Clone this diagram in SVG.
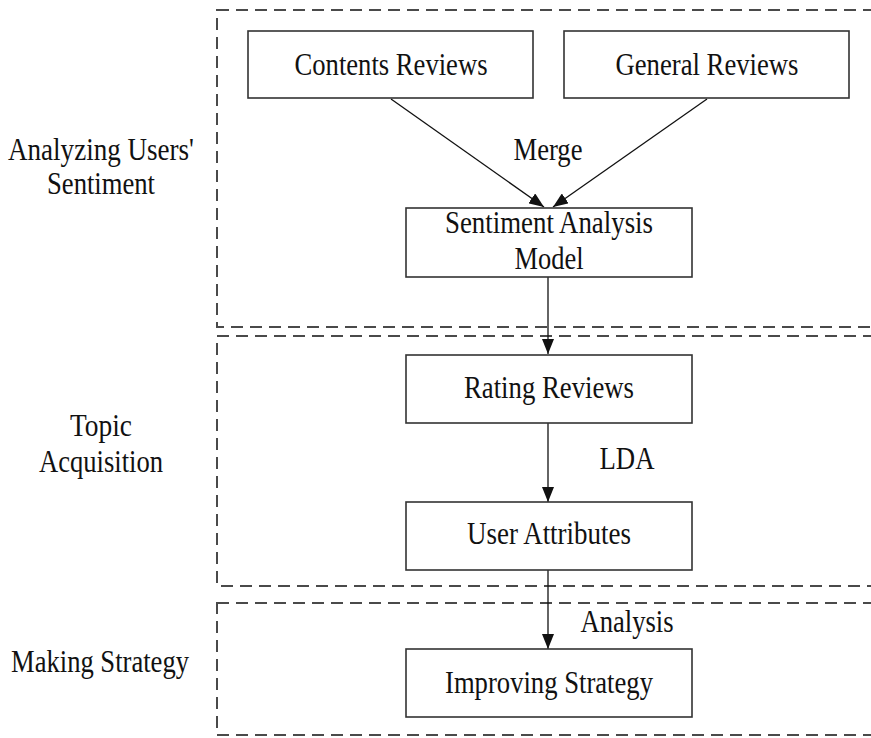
<svg xmlns="http://www.w3.org/2000/svg" width="871" height="738" viewBox="0 0 871 738">
  <style>
    .stage { fill: none; stroke: #4a4a4a; stroke-width: 2; stroke-dasharray: 12 7; }
    .box { fill: #fff; stroke: #333; stroke-width: 1.6; }
    .lbl { font-family: "Liberation Serif", "Times New Roman", serif; font-size: 31px; fill: #111; text-anchor: middle; }
    .edge { fill: none; stroke: #111; stroke-width: 1.3; }
  </style>
  <defs>
    <marker id="arrow" markerUnits="userSpaceOnUse" markerWidth="15" markerHeight="12" refX="15" refY="6" orient="auto">
      <path d="M0,0 L15,6 L0,12 z" fill="#111"/>
    </marker>
  </defs>
  <rect width="871" height="738" fill="#fff"/>

  <!-- stage frames (open on the right) -->
  <g id="stages">
    <rect class="stage" x="217" y="10" width="700" height="317"/>
    <rect class="stage" x="217" y="336" width="700" height="250"/>
    <rect class="stage" x="217" y="603" width="700" height="132"/>
  </g>

  <!-- stage titles -->
  <g id="stage-titles">
    <text class="lbl" x="101" y="160" textLength="186" lengthAdjust="spacingAndGlyphs">Analyzing Users'</text>
    <text class="lbl" x="101" y="194" textLength="108" lengthAdjust="spacingAndGlyphs">Sentiment</text>
    <text class="lbl" x="101" y="436" textLength="62" lengthAdjust="spacingAndGlyphs">Topic</text>
    <text class="lbl" x="101" y="472" textLength="124" lengthAdjust="spacingAndGlyphs">Acquisition</text>
    <text class="lbl" x="100" y="672" textLength="178" lengthAdjust="spacingAndGlyphs">Making Strategy</text>
  </g>

  <!-- connectors -->
  <g id="connectors">
    <line class="edge" x1="391" y1="99" x2="544" y2="207" marker-end="url(#arrow)"/>
    <line class="edge" x1="707" y1="99" x2="553" y2="207" marker-end="url(#arrow)"/>
    <line class="edge" x1="548" y1="277" x2="548" y2="354" marker-end="url(#arrow)"/>
    <line class="edge" x1="548" y1="423" x2="548" y2="502" marker-end="url(#arrow)"/>
    <line class="edge" x1="548" y1="570" x2="548" y2="649" marker-end="url(#arrow)"/>
    <text class="lbl" x="548" y="160" textLength="69" lengthAdjust="spacingAndGlyphs">Merge</text>
    <text class="lbl" x="627" y="469" textLength="55" lengthAdjust="spacingAndGlyphs">LDA</text>
    <text class="lbl" x="627" y="632" textLength="93" lengthAdjust="spacingAndGlyphs">Analysis</text>
  </g>

  <g id="contents-reviews">
    <rect class="box" x="248" y="31" width="285" height="67"/>
    <text class="lbl" x="391" y="75" textLength="193" lengthAdjust="spacingAndGlyphs">Contents Reviews</text>
  </g>

  <g id="general-reviews">
    <rect class="box" x="564" y="31" width="285" height="67"/>
    <text class="lbl" x="707" y="75" textLength="183" lengthAdjust="spacingAndGlyphs">General Reviews</text>
  </g>

  <g id="sentiment-model">
    <rect class="box" x="406" y="208" width="286" height="69"/>
    <text class="lbl" x="549" y="233" textLength="208" lengthAdjust="spacingAndGlyphs">Sentiment Analysis</text>
    <text class="lbl" x="549" y="269" textLength="69" lengthAdjust="spacingAndGlyphs">Model</text>
  </g>

  <g id="rating-reviews">
    <rect class="box" x="406" y="355" width="286" height="68"/>
    <text class="lbl" x="549" y="398" textLength="170" lengthAdjust="spacingAndGlyphs">Rating Reviews</text>
  </g>

  <g id="user-attributes">
    <rect class="box" x="406" y="502" width="286" height="68"/>
    <text class="lbl" x="549" y="544" textLength="164" lengthAdjust="spacingAndGlyphs">User Attributes</text>
  </g>

  <g id="improving-strategy">
    <rect class="box" x="406" y="649" width="286" height="68"/>
    <text class="lbl" x="549" y="693" textLength="208" lengthAdjust="spacingAndGlyphs">Improving Strategy</text>
  </g>
</svg>
